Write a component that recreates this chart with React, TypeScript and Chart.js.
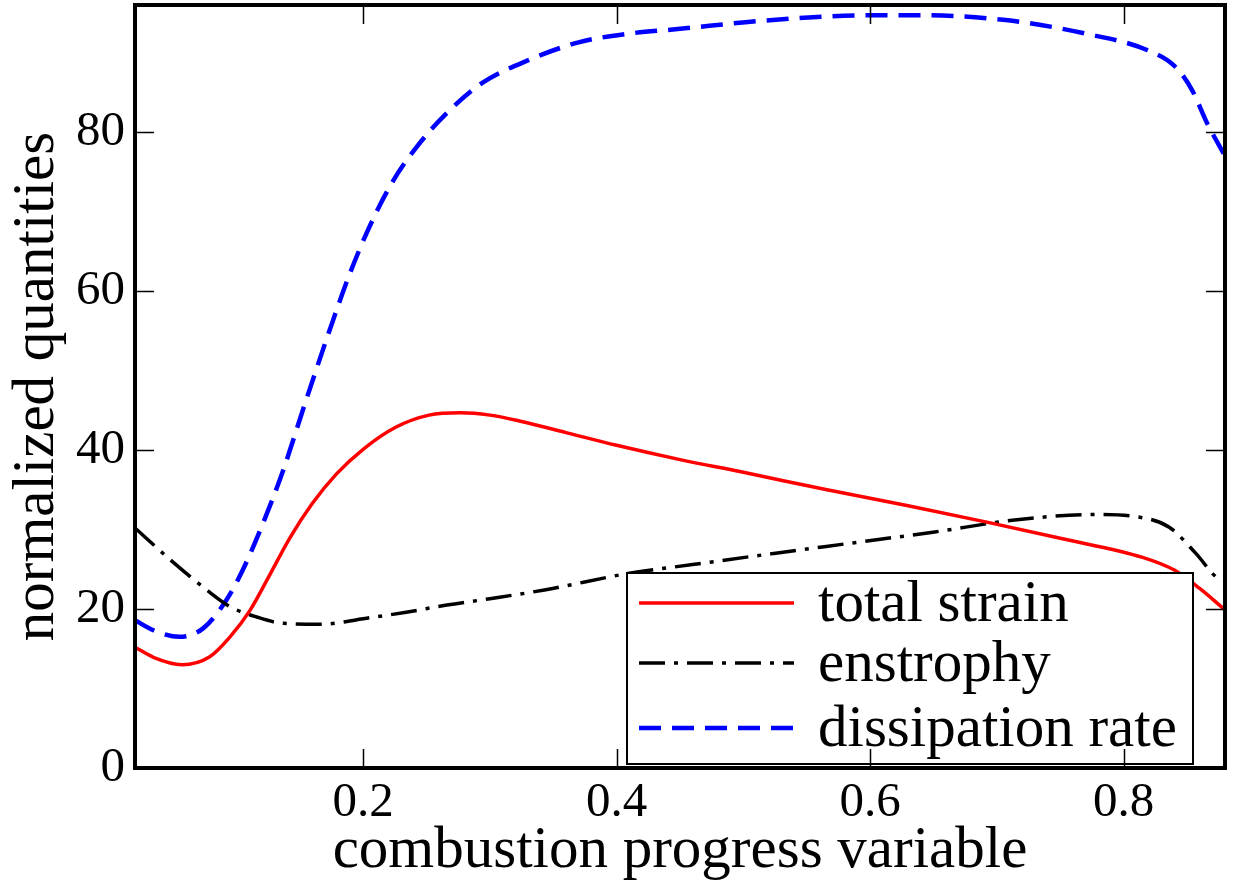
import React, { useEffect, useRef } from 'react';
import { Chart, registerables } from 'chart.js';

Chart.register(...registerables);

const FONT = '"Liberation Serif", "Times New Roman", Times, serif';

// total strain
const strainX = [0.02, 0.035, 0.057, 0.079, 0.095, 0.111, 0.126, 0.142, 0.16, 0.179, 0.2, 0.226, 0.252, 0.277, 0.3, 0.325, 0.36, 0.4, 0.45, 0.5, 0.566, 0.63, 0.693, 0.75, 0.815, 0.84, 0.86, 0.88];
const strainY = [15.2, 13.9, 13.0, 14.0, 16.5, 19.9, 24.2, 28.9, 33.3, 37.0, 40.1, 42.9, 44.4, 44.7, 44.4, 43.6, 42.2, 40.6, 38.8, 37.2, 35.0, 33.0, 30.9, 28.9, 26.5, 24.9, 22.6, 19.9];

// enstrophy
const enstrophyX = [0.02, 0.05, 0.079, 0.095, 0.116, 0.137, 0.166, 0.205, 0.234, 0.266, 0.3, 0.343, 0.41, 0.46, 0.524, 0.59, 0.651, 0.714, 0.777, 0.811, 0.836, 0.857, 0.874, 0.88];
const enstrophyY = [30.2, 25.9, 22.1, 20.3, 19.0, 18.2, 18.1, 18.9, 19.6, 20.5, 21.3, 22.4, 24.5, 25.6, 27.0, 28.4, 29.7, 31.2, 31.9, 31.6, 30.3, 27.0, 23.9, 23.6];

// dissipation rate
const dissipationX = [0.02, 0.035, 0.055, 0.074, 0.092, 0.105, 0.121, 0.137, 0.154, 0.174, 0.189, 0.205, 0.223, 0.242, 0.266, 0.294, 0.331, 0.37, 0.41, 0.45, 0.514, 0.6, 0.643, 0.707, 0.77, 0.819, 0.841, 0.854, 0.866, 0.88];
const dissipationY = [18.6, 17.3, 16.5, 17.6, 21.1, 24.9, 30.8, 37.5, 45.8, 55.3, 62.0, 68.1, 73.7, 78.1, 82.4, 86.2, 89.1, 91.3, 92.4, 93.0, 94.0, 94.7, 94.7, 94.1, 92.4, 90.3, 88.2, 85.3, 81.1, 77.0];

const seriesLabels = ['total strain', 'enstrophy', 'dissipation rate'];
const xTickValues = [0.2, 0.4, 0.6, 0.8];
const yTickValues = [0, 20, 40, 60, 80];
const xTitle = 'combustion progress variable';
const yTitle = 'normalized quantities';

const toPoints = (xs: number[], ys: number[]) => xs.map((x, i) => ({ x, y: ys[i] }));

const decorPlugin = {
  id: 'decor',
  afterDatasetsDraw(chart: any) {
    const { ctx, chartArea: a, scales } = chart;
    ctx.save();
    // legend box
    const lx0 = a.left + 492;
    const lx1 = a.right - 32;
    const ly0 = a.top + 568;
    const ly1 = a.bottom - 4;
    ctx.fillStyle = '#fff';
    ctx.fillRect(lx0, ly0, lx1 - lx0, ly1 - ly0);
    ctx.strokeStyle = '#000';
    ctx.lineWidth = 2;
    ctx.strokeRect(lx0, ly0, lx1 - lx0, ly1 - ly0);
    const rowY = [30, 90, 155];
    chart.data.datasets.forEach((ds: any, i: number) => {
      const y = ly0 + rowY[i];
      ctx.beginPath();
      ctx.setLineDash(ds.borderDash || []);
      ctx.lineWidth = ds.borderWidth;
      ctx.strokeStyle = ds.borderColor;
      ctx.moveTo(lx0 + 12, y);
      ctx.lineTo(lx0 + 167, y);
      ctx.stroke();
      ctx.setLineDash([]);
      ctx.fillStyle = '#000';
      ctx.font = `59px ${FONT}`;
      ctx.textAlign = 'left';
      ctx.textBaseline = 'alphabetic';
      ctx.fillText(ds.label, lx0 + 191, y + 18);
    });

    // inward ticks on all sides
    ctx.strokeStyle = '#000';
    ctx.lineWidth = 1.5;
    ctx.setLineDash([]);
    xTickValues.forEach((v) => {
      const px = Math.round(scales.x.getPixelForValue(v)) + 0.5;
      ctx.beginPath();
      ctx.moveTo(px, a.bottom);
      ctx.lineTo(px, a.bottom - 19);
      ctx.moveTo(px, a.top);
      ctx.lineTo(px, a.top + 19);
      ctx.stroke();
    });
    yTickValues.forEach((v) => {
      const py = Math.round(scales.y.getPixelForValue(v)) + 0.5;
      ctx.beginPath();
      ctx.moveTo(a.left, py);
      ctx.lineTo(a.left + 19, py);
      ctx.moveTo(a.right, py);
      ctx.lineTo(a.right - 19, py);
      ctx.stroke();
    });
    // frame
    ctx.lineWidth = 4;
    ctx.strokeRect(a.left, a.top, a.right - a.left, a.bottom - a.top);

    // axis titles
    ctx.fillStyle = '#000';
    ctx.font = `59px ${FONT}`;
    ctx.textAlign = 'center';
    ctx.textBaseline = 'alphabetic';
    ctx.fillText(xTitle, (a.left + a.right) / 2, 867);
    ctx.translate(53, (a.top + a.bottom) / 2);
    ctx.rotate(-Math.PI / 2);
    ctx.fillText(yTitle, 0, 0);
    ctx.restore();
  },
};

export default function App() {
  const ref = useRef<HTMLCanvasElement | null>(null);
  useEffect(() => {
    if (!ref.current) return;
    const chart = new Chart(ref.current, {
      type: 'line',
      data: {
        datasets: [
          {
            label: seriesLabels[0],
            data: toPoints(strainX, strainY),
            borderColor: '#ff0000',
            borderWidth: 3.5,
            pointRadius: 0,
            fill: false,
            cubicInterpolationMode: 'monotone',
          },
          {
            label: seriesLabels[1],
            data: toPoints(enstrophyX, enstrophyY),
            borderColor: '#000000',
            borderWidth: 3.5,
            borderDash: [26, 9, 4, 9],
            pointRadius: 0,
            fill: false,
            cubicInterpolationMode: 'monotone',
          },
          {
            label: seriesLabels[2],
            data: toPoints(dissipationX, dissipationY),
            borderColor: '#0000ff',
            borderWidth: 4.5,
            borderDash: [22, 11],
            pointRadius: 0,
            fill: false,
            cubicInterpolationMode: 'monotone',
          },
        ],
      } as any,
      options: {
        responsive: false,
        devicePixelRatio: 1,
        animation: false,
        layout: { padding: { left: 0, top: 5, right: 12, bottom: 0 } },
        plugins: { legend: { display: false }, tooltip: { enabled: false } },
        scales: {
          x: {
            type: 'linear',
            min: 0.02,
            max: 0.88,
            afterBuildTicks: (s: any) => {
              s.ticks = xTickValues.map((v) => ({ value: v }));
            },
            afterFit: (s: any) => {
              s.height = 120;
              s.paddingLeft = 0;
              s.paddingRight = 0;
            },
            grid: { display: false, drawTicks: false },
            border: { display: false },
            ticks: {
              autoSkip: false,
              maxRotation: 0,
              padding: 6,
              color: '#000',
              font: { family: FONT, size: 49 },
              callback: (v: any) => Number(v).toFixed(1),
            },
          },
          y: {
            type: 'linear',
            min: 0,
            max: 96,
            afterBuildTicks: (s: any) => {
              s.ticks = yTickValues.map((v) => ({ value: v }));
            },
            afterFit: (s: any) => {
              s.width = 135;
              s.paddingTop = 0;
              s.paddingBottom = 0;
            },
            grid: { display: false, drawTicks: false },
            border: { display: false },
            ticks: {
              autoSkip: false,
              padding: 10,
              color: '#000',
              font: { family: FONT, size: 49 },
              callback: (v: any) => String(v),
            },
          },
        },
      } as any,
      plugins: [decorPlugin],
    });
    return () => chart.destroy();
  }, []);
  return (
    <div style={{ position: 'fixed', left: 0, top: 0, width: 1237, height: 888, background: '#fff' }}>
      <canvas ref={ref} width={1237} height={888} style={{ display: 'block' }} />
    </div>
  );
}
